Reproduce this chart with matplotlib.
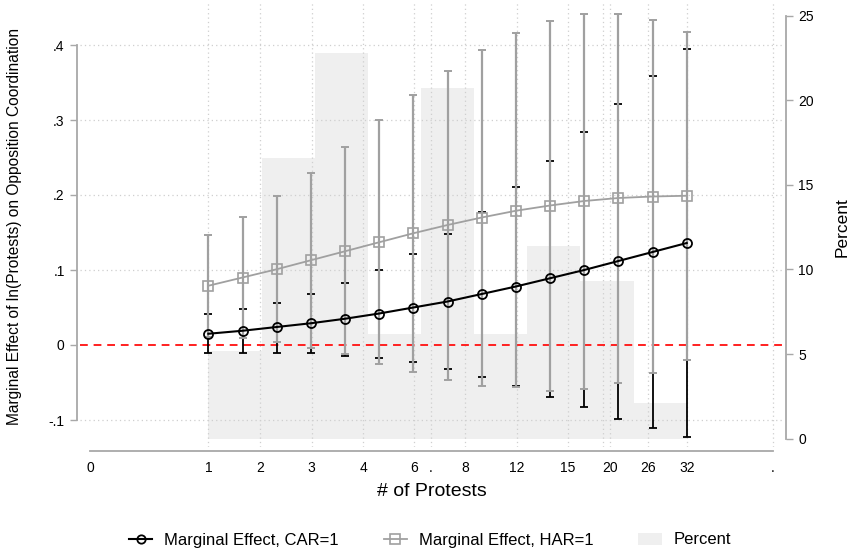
import numpy as np
import matplotlib
matplotlib.use('Agg')
import matplotlib.pyplot as plt
from matplotlib.lines import Line2D
from matplotlib.patches import Patch

plt.rcParams['font.family'] = ['Liberation Sans', 'DejaVu Sans']

# evaluation grid, ln(# of protests)
ln_protests = [0.0, 0.25, 0.5, 0.75, 1.0, 1.25, 1.5, 1.75, 2.0, 2.25, 2.5, 2.75, 3.0, 3.25, 3.5]

# marginal effects with 95% CI, CAR=1
car_me = [0.015, 0.019, 0.024, 0.029, 0.035, 0.042, 0.050, 0.058, 0.068, 0.078,
          0.089, 0.100, 0.112, 0.124, 0.136]
car_lo = [-0.010, -0.010, -0.010, -0.011, -0.014, -0.017, -0.023, -0.032, -0.042, -0.055,
          -0.069, -0.083, -0.098, -0.111, -0.123]
car_hi = [0.041, 0.048, 0.056, 0.068, 0.083, 0.100, 0.122, 0.148, 0.178, 0.211,
          0.246, 0.284, 0.322, 0.359, 0.395]

# marginal effects with 95% CI, HAR=1
har_me = [0.079, 0.090, 0.101, 0.113, 0.125, 0.137, 0.149, 0.160, 0.170, 0.179,
          0.186, 0.192, 0.196, 0.198, 0.199]
har_lo = [0.011, 0.009, 0.004, -0.004, -0.012, -0.025, -0.036, -0.047, -0.054, -0.056,
          -0.061, -0.058, -0.050, -0.037, -0.020]
har_hi = [0.147, 0.171, 0.199, 0.230, 0.264, 0.300, 0.333, 0.365, 0.394, 0.416,
          0.432, 0.441, 0.441, 0.433, 0.417]

# histogram of ln(protests), percent
hist_edges = [0.0, 0.389, 0.778, 1.167, 1.556, 1.944, 2.333, 2.722, 3.111, 3.5]
hist_pct = [5.2, 16.6, 22.8, 6.2, 20.7, 6.2, 11.4, 9.3, 2.1]

# x axis labels (# of protests)
xtick_pos = [-0.865, 0.0, 0.378, 0.756, 1.132, 1.505, 1.627, 1.880, 2.256, 2.631,
             2.885, 2.939, 3.216, 3.502, 4.131]
xtick_labels = ['0', '1', '2', '3', '4', '6', '.', '8', '12', '15',
                '', '20', '26', '32', '.']

yticks_left = [-0.1, 0, 0.1, 0.2, 0.3, 0.4]
ytick_left_labels = ['-.1', '0', '.1', '.2', '.3', '.4']
yticks_right = [0, 5, 10, 15, 20, 25]

GRAY = '#A0A0A0'
AXCOL = '#A8A8A8'
GRID = '#CFCFCF'

W, H = 854, 553
fig = plt.figure(figsize=(W / 100, H / 100), dpi=100)
ax = fig.add_axes([80 / W, (H - 447) / H, (783 - 80) / W, 444 / H])
ax2 = ax.twinx()

# histogram behind everything
widths = np.diff(hist_edges)
ax2.bar(hist_edges[:-1], hist_pct, width=widths, align='edge',
        color='#EFEFEF', linewidth=0, zorder=1)
ax2.set_ylim(-0.49, 25.74)
ax.set_zorder(ax2.get_zorder() + 1)
ax.patch.set_visible(False)

x = np.array(ln_protests)
car_me = np.array(car_me)
har_me = np.array(har_me)

# grid lines
for xp, lab in zip(xtick_pos, xtick_labels):
    if lab == '0':
        continue
    ax.axvline(xp, color=GRID, lw=0.9, ls=(0, (1, 2.5)), zorder=0)
for yv in yticks_left:
    if yv != 0:
        ax.axhline(yv, color=GRID, lw=0.9, ls=(0, (1, 2.5)), zorder=0)

ax.axhline(0, color='#FF2020', lw=1.4, ls=(0, (4, 3)), zorder=2)

ax.errorbar(x, car_me, yerr=[car_me - np.array(car_lo), np.array(car_hi) - car_me],
            fmt='none', ecolor='black', elinewidth=1.3, capsize=3, capthick=1.3, zorder=3)
ax.errorbar(x, har_me, yerr=[har_me - np.array(har_lo), np.array(har_hi) - har_me],
            fmt='none', ecolor=GRAY, elinewidth=1.6, capsize=3, capthick=1.4, zorder=4)
ax.plot(x, har_me, color=GRAY, lw=1.3, marker='s', ms=7, mfc='none',
        mec=GRAY, mew=1.2, zorder=5)
ax.plot(x, car_me, color='black', lw=1.5, marker='o', ms=6.5, mfc='none',
        mec='black', mew=1.3, zorder=6)

ax.set_xlim(-0.939, 4.204)
ax.set_ylim(-0.136, 0.456)

ax.set_xticks(xtick_pos)
ax.set_xticklabels(xtick_labels, fontsize=12)
ax.set_yticks(yticks_left)
ax.set_yticklabels(ytick_left_labels, fontsize=11.5)
ax2.set_yticks(yticks_right)
ax2.set_yticklabels([str(v) for v in yticks_right], fontsize=11.5)

ax.tick_params(axis='x', length=0, pad=7)
ax.tick_params(axis='y', length=5, width=1, color=AXCOL, pad=4)
ax2.tick_params(axis='y', length=5, width=1, color=AXCOL, pad=4)

for a in (ax, ax2):
    a.spines['top'].set_visible(False)
for s in ('left', 'right', 'bottom'):
    ax.spines[s].set_visible(False)
ax2.spines['left'].set_visible(False)
ax.spines['left'].set_visible(True)
ax.spines['left'].set_bounds(-0.1, 0.4)
ax.spines['left'].set_position(('outward', 2))
ax.spines['left'].set_color(AXCOL)
ax.spines['left'].set_linewidth(1.3)
ax.spines['bottom'].set_visible(True)
ax.spines['bottom'].set_bounds(xtick_pos[0], xtick_pos[-1])
ax.spines['bottom'].set_position(('outward', 3))
ax.spines['bottom'].set_color(AXCOL)
ax.spines['bottom'].set_linewidth(1.3)
ax2.spines['bottom'].set_visible(False)
ax2.spines['right'].set_bounds(0, 25)
ax2.spines['right'].set_position(('outward', 2))
ax2.spines['right'].set_color(AXCOL)
ax2.spines['right'].set_linewidth(1.3)

fig.text(15 / W, 1 - 226 / H, 'Marginal Effect of ln(Protests) on Opposition Coordination',
         rotation=90, ha='center', va='center', fontsize=11.2)
fig.text(842 / W, 1 - 227 / H, 'Percent', rotation=90, ha='center', va='center',
         fontsize=12.5)
fig.text(432 / W, 1 - 491 / H, '# of Protests', ha='center', va='center', fontsize=14)

handles = [
    Line2D([], [], color='black', lw=1.5, marker='o', ms=6, mfc='none', mec='black', mew=1.3),
    Line2D([], [], color=GRAY, lw=1.3, marker='s', ms=6.5, mfc='none', mec=GRAY, mew=1.2),
    Patch(facecolor='#EFEFEF', edgecolor='none'),
]
labels = ['Marginal Effect, CAR=1', 'Marginal Effect, HAR=1', 'Percent']
fig.legend(handles, labels, loc='center', bbox_to_anchor=(430 / W, 1 - 540 / H), ncol=3,
           frameon=False, fontsize=12, handlelength=1.4, columnspacing=2.7,
           handletextpad=0.7)

fig.savefig('out.png', dpi=100)
